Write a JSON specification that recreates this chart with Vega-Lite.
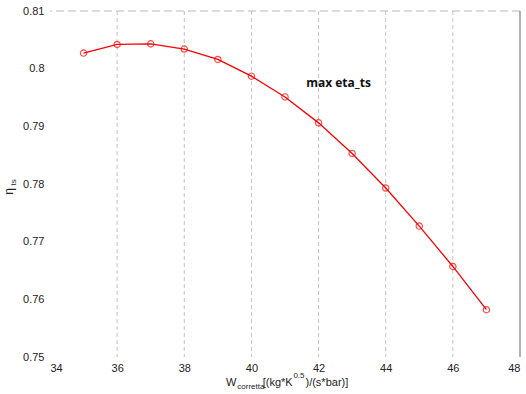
{
  "$schema": "https://vega.github.io/schema/vega-lite/v6.json",
  "width": 470,
  "height": 346,
  "autosize": {"type": "none"},
  "padding": {"left": 50, "top": 11, "right": 6, "bottom": 37},
  "background": "white",
  "config": {"view": {"stroke": null}, "font": "Liberation Sans"},
  "datasets": {
    "eta": [
      {"W": 35, "eta": 0.8027},
      {"W": 36, "eta": 0.8042},
      {"W": 37, "eta": 0.8043},
      {"W": 38, "eta": 0.8034},
      {"W": 39, "eta": 0.8016},
      {"W": 40, "eta": 0.7987},
      {"W": 41, "eta": 0.7951},
      {"W": 42, "eta": 0.7906},
      {"W": 43, "eta": 0.7853},
      {"W": 44, "eta": 0.7793},
      {"W": 45, "eta": 0.7727},
      {"W": 46, "eta": 0.7657},
      {"W": 47, "eta": 0.7582}
    ],
    "grid": [{"g": 36}, {"g": 38}, {"g": 40}, {"g": 42}, {"g": 44}, {"g": 46}],
    "labels": [
      {"t": "W", "x": 39.243, "y": 0.74497, "size": 11},
      {"t": "corretta", "x": 39.58, "y": 0.74445, "size": 8},
      {"t": "[(kg*K", "x": 40.336, "y": 0.74497, "size": 11},
      {"t": "0.5", "x": 41.25, "y": 0.74636, "size": 8},
      {"t": ")/(s*bar)]", "x": 41.61, "y": 0.74497, "size": 11}
    ],
    "one": [{}]
  },
  "layer": [
    {
      "data": {"name": "grid"},
      "mark": {"type": "rule", "color": "#c4c4c4", "strokeDash": [4, 3], "strokeWidth": 1},
      "encoding": {"x": {"field": "g", "type": "quantitative"}}
    },
    {
      "data": {"name": "eta"},
      "mark": {"type": "line", "color": "#ff0000", "strokeWidth": 1.3},
      "encoding": {
        "x": {
          "field": "W", "type": "quantitative",
          "scale": {"domain": [34, 48], "nice": false, "zero": false},
          "axis": {
            "values": [34, 36, 38, 40, 42, 44, 46, 48],
            "title": null, "domain": false, "ticks": false, "grid": false,
            "labelFontSize": 11, "labelColor": "#222", "labelPadding": 5,
            "labelFont": "Liberation Sans"
          }
        },
        "y": {
          "field": "eta", "type": "quantitative",
          "scale": {"domain": [0.75, 0.81], "nice": false, "zero": false},
          "axis": {
            "values": [0.75, 0.76, 0.77, 0.78, 0.79, 0.8, 0.81],
            "format": "~g",
            "title": null, "domain": false, "ticks": false, "grid": false,
            "labelFontSize": 11, "labelColor": "#222", "labelPadding": 6,
            "labelFont": "Liberation Sans"
          }
        }
      }
    },
    {
      "data": {"name": "eta"},
      "mark": {"type": "point", "shape": "circle", "color": "#ff0000", "size": 40, "strokeWidth": 1.2, "filled": false},
      "encoding": {
        "x": {"field": "W", "type": "quantitative"},
        "y": {"field": "eta", "type": "quantitative"}
      }
    },
    {
      "data": {"name": "one"},
      "mark": {"type": "rule", "color": "#b8b8b8", "strokeDash": [8, 4], "strokeWidth": 1},
      "encoding": {"y": {"datum": 0.81}}
    },
    {
      "data": {"name": "one"},
      "mark": {"type": "rule", "color": "#999999", "strokeWidth": 1.5},
      "encoding": {"x": {"datum": 48}}
    },
    {
      "data": {"name": "one"},
      "mark": {"type": "text", "text": "max eta_ts", "font": "Open Sans", "fontWeight": "bold", "fontSize": 12, "align": "left", "baseline": "alphabetic", "color": "#111"},
      "encoding": {"x": {"datum": 41.63}, "y": {"datum": 0.7968}}
    },
    {
      "data": {"name": "labels"},
      "mark": {"type": "text", "align": "left", "baseline": "alphabetic", "clip": false, "color": "#222", "font": "Liberation Sans"},
      "encoding": {
        "x": {"field": "x", "type": "quantitative"},
        "y": {"field": "y", "type": "quantitative"},
        "text": {"field": "t"},
        "size": {"field": "size", "type": "quantitative", "scale": null}
      }
    },
    {
      "data": {"name": "one"},
      "mark": {"type": "text", "text": "η", "angle": 270, "fontSize": 12, "align": "center", "baseline": "alphabetic", "color": "#222", "font": "Liberation Sans"},
      "encoding": {"x": {"datum": 32.9}, "y": {"datum": 0.7787}}
    },
    {
      "data": {"name": "one"},
      "mark": {"type": "text", "text": "ts", "angle": 270, "fontSize": 8, "align": "center", "baseline": "alphabetic", "color": "#222", "font": "Liberation Sans"},
      "encoding": {"x": {"datum": 33.0}, "y": {"datum": 0.7803}}
    }
  ]
}
